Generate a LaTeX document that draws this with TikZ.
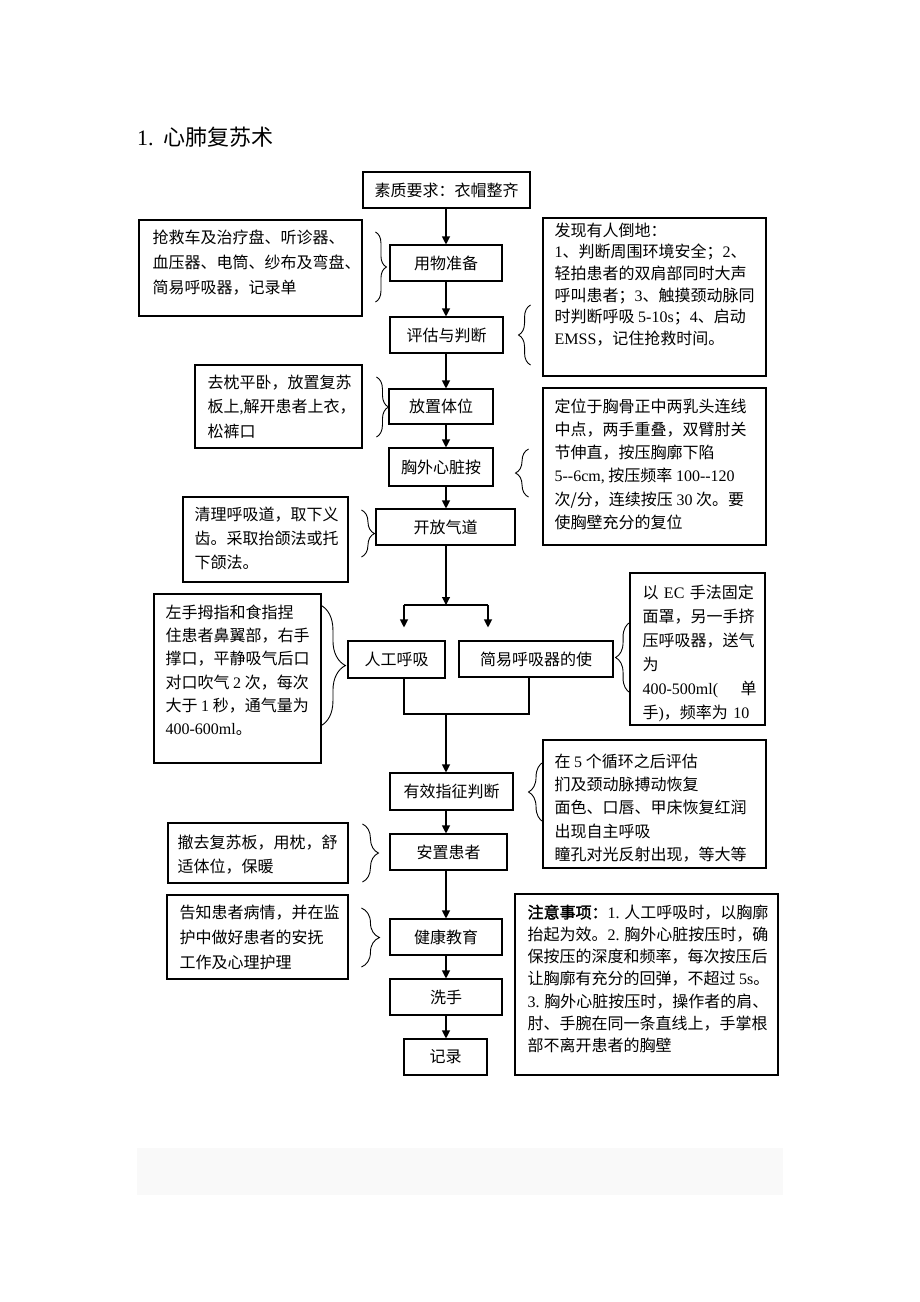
\documentclass[tikz,border=0pt]{standalone}
\usepackage{fontspec}
\setmainfont{Noto Sans CJK SC}[AutoFakeBold=2]
\newfontfamily\en{Liberation Serif}
\usetikzlibrary{arrows.meta}
\usetikzlibrary{decorations.pathreplacing}
\definecolor{pagegray}{RGB}{249,249,249}

\begin{document}
\begin{tikzpicture}[x=1pt, y=-1pt]
	\tikzset{stepbox/.style={
		rectangle, draw=black, line width=1.1pt, inner sep=0pt, minimum height=36pt,
		font=\fontsize{16pt}{18pt}\selectfont
	}}
	\tikzset{sidebox/.style={
		rectangle, draw=black, line width=1.1pt, inner sep=0pt
	}}
	\tikzset{caption/.style={
		anchor=north west, inner sep=0pt, align=left, font=\fontsize{16pt}{#1}\selectfont
	}, caption/.default=23.3pt}
	\tikzset{wire/.style={
		line width=1.1pt
	}}
	\tikzset{conn/.style={
		wire, -{Triangle[length=8pt, width=8pt]}
	}}
	\tikzset{curly/.style={
		line width=0.9pt, decorate, decoration={brace, amplitude=#1}
	}, curly/.default=12pt}

	\useasboundingbox (0,0) rectangle (920,1302);

	% Title
	\node (Title) [anchor=west, inner sep=0pt, font=\fontsize{22pt}{25pt}\selectfont] at (137,137) {{\en 1.}\hspace{10pt}心肺复苏术};

	% Main steps
	\node (Top)    [stepbox, minimum width=167pt] at (446.5,190) {素质要求：衣帽整齐};
	\node (Prep)   [stepbox, minimum width=112pt] at (446,263) {用物准备};
	\node (Assess) [stepbox, minimum width=113pt] at (446.5,335) {评估与判断};
	\node (Place)  [stepbox, minimum width=104pt, minimum height=35pt] at (441,406.5) {放置体位};
	\node (Cpr)    [stepbox, minimum width=104pt, minimum height=38pt] at (441,467) {胸外心脏按};
	\node (Airway) [stepbox, minimum width=139pt] at (445.5,527) {开放气道};
	\node (Manual) [stepbox, minimum width=97pt, minimum height=37pt] at (396.5,659.5) {人工呼吸};
	\node (Device) [stepbox, minimum width=154pt] at (536,659) {简易呼吸器的使};
	\node (Check)  [stepbox, minimum width=123pt, minimum height=37pt] at (451.5,791.5) {有效指征判断};
	\node (Settle) [stepbox, minimum width=117pt] at (448.5,852) {安置患者};
	\node (Teach)  [stepbox, minimum width=112pt] at (446,937) {健康教育};
	\node (Wash)   [stepbox, minimum width=112pt] at (446,997) {洗手};
	\node (Record) [stepbox, minimum width=83pt] at (445.5,1057) {记录};

	% Split / merge points
	\coordinate (axis)   at (446,0);
	\coordinate (Split)  at (446,605);
	\coordinate (SplitL) at (404,605);
	\coordinate (SplitR) at (488,605);
	\coordinate (Merge)  at (446,714);
	\coordinate (MergeR) at (529,714);

	% Left notes
	\node (Kit) [sidebox, minimum width=223pt, minimum height=96pt] at (250.5,268) {};
	\node (Kit_text) [caption=25pt] at ([shift={(14,10)}]Kit.north west)
		{抢救车及治疗盘、听诊器、\\血压器、电筒、纱布及弯盘、\\简易呼吸器，记录单};

	\node (Pose) [sidebox, minimum width=167pt, minimum height=83pt] at (278.5,406.5) {};
	\node (Pose_text) [caption=24.5pt] at ([shift={(13,10)}]Pose.north west)
		{去枕平卧，放置复苏\\板上{\en ,}解开患者上衣，\\松裤口};

	\node (Clear) [sidebox, minimum width=165pt, minimum height=85pt] at (265.5,539.5) {};
	\node (Clear_text) [caption=24pt] at ([shift={(12,10)}]Clear.north west)
		{清理呼吸道，取下义\\齿。采取抬颌法或托\\下颌法。};

	\node (Mouth) [sidebox, minimum width=167pt, minimum height=169pt] at (237.5,678.5) {};
	\node (Mouth_text) [caption=23.3pt] at ([shift={(12,11)}]Mouth.north west)
		{左手拇指和食指捏\\住患者鼻翼部，右手\\撑口，平静吸气后口\\对口吹气 {\en 2} 次，每次\\大于 {\en 1} 秒，通气量为\\{\en 400-600ml}。};

	\node (Comfort) [sidebox, minimum width=180pt, minimum height=60pt] at (258,853) {};
	\node (Comfort_text) [caption=24pt] at ([shift={(10,12)}]Comfort.north west)
		{撤去复苏板，用枕，舒\\适体位，保暖};

	\node (Inform) [sidebox, minimum width=181pt, minimum height=84pt] at (257.5,937) {};
	\node (Inform_text) [caption=25pt] at ([shift={(13,10)}]Inform.north west)
		{告知患者病情，并在监\\护中做好患者的安抚\\工作及心理护理};

	% Right notes
	\node (Find) [sidebox, minimum width=223pt, minimum height=158pt] at (654.5,297) {};
	\node (Find_text) [caption=21.7pt] at ([shift={(12,5)}]Find.north west)
		{发现有人倒地：\\{\en 1}、判断周围环境安全；{\en 2}、\\轻拍患者的双肩部同时大声\\呼叫患者；{\en 3}、触摸颈动脉同\\时判断呼吸 {\en 5-10s}；{\en 4}、启动\\{\en EMSS}，记住抢救时间。};

	\node (Press) [sidebox, minimum width=223pt, minimum height=157pt] at (654.5,466.5) {};
	\node (Press_text) [caption=23.2pt] at ([shift={(12,11)}]Press.north west)
		{定位于胸骨正中两乳头连线\\中点，两手重叠，双臂肘关\\节伸直，按压胸廓下陷\\{\en 5{-}{-}6cm,} 按压频率 {\en 100{-}{-}120}\\次/分，连续按压 {\en 30} 次。要\\使胸壁充分的复位};

	\node (Bag) [sidebox, minimum width=135pt, minimum height=152pt] at (697.5,649) {};
	\node (Bag_text) [caption=24pt, text width=114pt] at ([shift={(13,12)}]Bag.north west)
		{以 {\en EC} 手法固定\\面罩，另一手挤\\压呼吸器，送气\\为\\{\en 400-500ml(}\hspace{0pt plus 1filll}单\\手{\en )}，频率为 {\en 10}};

	\node (Signs) [sidebox, minimum width=223pt, minimum height=128pt] at (654.5,804) {};
	\node (Signs_text) [caption=23.3pt] at ([shift={(12,14)}]Signs.north west)
		{在 {\en 5} 个循环之后评估\\扪及颈动脉搏动恢复\\面色、口唇、甲床恢复红润\\出现自主呼吸\\瞳孔对光反射出现，等大等};

	\node (Notice) [sidebox, minimum width=263pt, minimum height=181pt] at (646.5,984.5) {};
	\node (Notice_text) [caption=22.2pt] at ([shift={(13,11)}]Notice.north west)
		{{\bfseries 注意事项：}{\en 1.} 人工呼吸时，以胸廓\\抬起为效。{\en 2.} 胸外心脏按压时，确\\保按压的深度和频率，每次按压后\\让胸廓有充分的回弹，不超过 {\en 5s}。\\{\en 3.} 胸外心脏按压时，操作者的肩、\\肘、手腕在同一条直线上，手掌根\\部不离开患者的胸壁};

	% Footer band
	\node (Footer) [fill=pagegray, inner sep=0pt, minimum width=646pt, minimum height=47pt] at (460,1171.5) {};

	% Braces
	\draw[curly=11pt] ([shift={(-14,-31)}]Prep.west) -- ([shift={(-14,39)}]Prep.west);
	\draw[curly=12pt] ([shift={(27,30)}]Assess.east) -- ([shift={(27,-30)}]Assess.east);
	\draw[curly=12pt] ([shift={(-12,-29.5)}]Place.west) -- ([shift={(-12,30.5)}]Place.west);
	\draw[curly=13pt] ([shift={(35,30)}]Cpr.east) -- ([shift={(35,-18)}]Cpr.east);
	\draw[curly=13pt] ([shift={(-14,-17)}]Airway.west) -- ([shift={(-14,30)}]Airway.west);
	\draw[curly=25pt] ([shift={(-27,-54.5)}]Manual.west) -- ([shift={(-27,66.5)}]Manual.west);
	\draw[curly=15pt] ([shift={(17,34)}]Device.east) -- ([shift={(17,-37)}]Device.east);
	\draw[curly=15pt] ([shift={(30,30.5)}]Check.east) -- ([shift={(30,-29.5)}]Check.east);
	\draw[curly=16pt] ([shift={(-27,-28)}]Settle.west) -- ([shift={(-27,30)}]Settle.west);
	\draw[curly=18pt] ([shift={(-28,-29)}]Teach.west) -- ([shift={(-28,30)}]Teach.west);

	% Main flow
	\draw[conn] (Top.south -| axis) -- (Prep.north -| axis);
	\draw[conn] (Prep.south -| axis) -- (Assess.north -| axis);
	\draw[conn] (Assess.south -| axis) -- (Place.north -| axis);
	\draw[conn] (Place.south -| axis) -- (Cpr.north -| axis);
	\draw[conn] (Cpr.south -| axis) -- (Airway.north -| axis);
	\draw[conn] (Airway.south -| axis) -- (Split);

	% Split into two ways of ventilation
	\draw[wire] (SplitL) -- (SplitR);
	\draw[conn, shorten >=13pt] (SplitL) -- (SplitL |- Manual.north);
	\draw[conn, shorten >=13pt] (SplitR) -- (SplitR |- Device.north);
	\draw[wire] (Manual.south -| SplitL) |- (MergeR) -- (Device.south -| MergeR);
	\draw[conn] (Merge) -- (Check.north -| Merge);

	\draw[conn] (Check.south -| axis) -- (Settle.north -| axis);
	\draw[conn] (Settle.south -| axis) -- (Teach.north -| axis);
	\draw[conn] (Teach.south -| axis) -- (Wash.north -| axis);
	\draw[conn] (Wash.south -| axis) -- (Record.north -| axis);
\end{tikzpicture}
\end{document}
